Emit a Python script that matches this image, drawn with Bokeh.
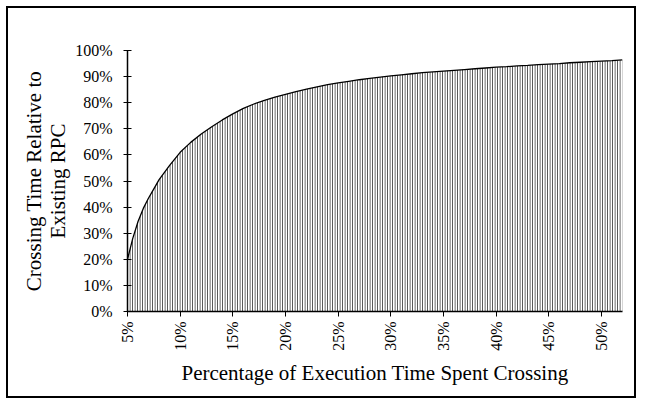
import math
from bokeh.plotting import figure
from bokeh.models import FixedTicker
from bokeh.embed import file_html
from bokeh.resources import INLINE

# Data (percent values)
x_pct = [5, 5.5, 6, 6.5, 7, 7.5, 8, 9, 10, 11, 12, 13, 14, 15, 16, 17, 18, 19,
         20, 21, 22, 23, 24, 25, 26, 27, 28, 29, 30, 31, 32, 33, 34, 35, 36,
         37, 38, 39, 40, 41, 42, 43, 44, 45, 46, 47, 48, 49, 50, 51, 52]
y_pct = [20, 28, 34.5, 39.5, 43.5, 47, 50.5, 56, 61, 64.8, 68, 70.8, 73.4, 75.7,
         77.8, 79.5, 80.9, 82.1, 83.2, 84.2, 85.2, 86.1, 86.9, 87.6, 88.2, 88.8,
         89.3, 89.8, 90.3, 90.7, 91.1, 91.5, 91.8, 92.1, 92.4, 92.7, 93.0, 93.3,
         93.6, 93.8, 94.1, 94.3, 94.6, 94.8, 95.0, 95.3, 95.5, 95.7, 95.9, 96.1, 96.4]
y_base = [0] * len(x_pct)

x_ticks = [5, 10, 15, 20, 25, 30, 35, 40, 45, 50]
x_tick_labels = ["5%", "10%", "15%", "20%", "25%", "30%", "35%", "40%", "45%", "50%"]
y_ticks = [0, 10, 20, 30, 40, 50, 60, 70, 80, 90, 100]
y_tick_labels = ["0%", "10%", "20%", "30%", "40%", "50%", "60%", "70%", "80%", "90%", "100%"]

x_title = "Percentage of Execution Time Spent Crossing"
y_title_lines = ["Crossing Time Relative to", "Existing RPC"]

FONT = "Liberation Serif"
W, H = 630, 392

p = figure(width=W, height=H, output_backend="svg", toolbar_location=None,
           x_range=(5, 52), y_range=(0, 100),
           min_border_left=119, min_border_right=16, min_border_top=42, min_border_bottom=89)
p.styles = {"border": "2px solid black", "margin": "6px 0px 0px 6px"}
p.background_fill_color = "white"
p.border_fill_color = "white"
p.outline_line_color = None
p.xgrid.visible = False
p.ygrid.visible = False

p.varea(x=x_pct, y1=y_base, y2=y_pct, fill_color="white",
        hatch_pattern="vertical_line", hatch_scale=2.5, hatch_weight=1, hatch_color="#333333")
p.line(x=x_pct, y=y_pct, line_color="black", line_width=1.3)

xa = p.xaxis[0]
xa.ticker = FixedTicker(ticks=x_ticks)
xa.major_label_overrides = {t: l for t, l in zip(x_ticks, x_tick_labels)}
xa.major_label_orientation = math.pi / 2
xa.minor_tick_line_color = None
xa.major_tick_in = 0
xa.major_tick_out = 5
xa.major_label_standoff = 5
xa.axis_line_width = 1.5
xa.axis_line_color = "black"
xa.major_tick_line_color = "black"
xa.major_label_text_font = FONT
xa.major_label_text_font_size = "16px"
xa.major_label_text_color = "black"
xa.axis_label = x_title
xa.axis_label_text_font = FONT
xa.axis_label_text_font_size = "21px"
xa.axis_label_text_font_style = "normal"
xa.axis_label_text_color = "black"
xa.axis_label_standoff = 7

ya = p.yaxis[0]
ya.ticker = FixedTicker(ticks=y_ticks)
ya.major_label_overrides = {t: l for t, l in zip(y_ticks, y_tick_labels)}
ya.minor_tick_line_color = None
ya.major_tick_in = 4
ya.major_tick_out = 4
ya.major_label_standoff = 11
ya.axis_line_width = 1.5
ya.axis_line_color = "black"
ya.major_tick_line_color = "black"
ya.major_label_text_font = FONT
ya.major_label_text_font_size = "16px"
ya.major_label_text_color = "black"
ya.axis_label = "\n".join(y_title_lines)
ya.axis_label_text_font = FONT
ya.axis_label_text_font_size = "21px"
ya.axis_label_text_font_style = "normal"
ya.axis_label_text_color = "black"
ya.axis_label_text_line_height = 1.0
ya.axis_label_standoff = 2

open("out.html", "w").write(file_html(p, INLINE))
